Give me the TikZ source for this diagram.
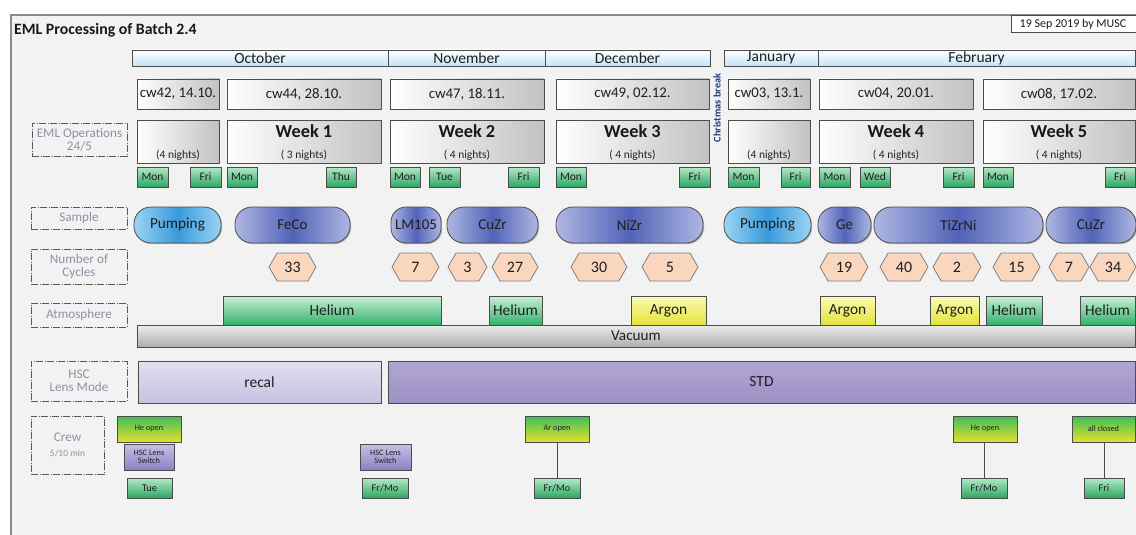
\documentclass[tikz,border=0pt]{standalone}
\usepackage{fontspec}
\setmainfont{Carlito}
\usetikzlibrary{shapes.symbols,shadows}
\definecolor{frameGray}{HTML}{8A8A8A}
\definecolor{bgGray}{HTML}{F2F2F2}
\definecolor{monthBlue}{HTML}{C2E4F7}
\definecolor{cwGray}{HTML}{C2C2C2}
\definecolor{dayT}{HTML}{B5E8C8}
\definecolor{dayB}{HTML}{2BA762}
\definecolor{pumpL}{HTML}{9AD4F4}
\definecolor{pumpM}{HTML}{3A9ADB}
\definecolor{sampL}{HTML}{AEB7E2}
\definecolor{sampM}{HTML}{5163B8}
\definecolor{peach}{HTML}{F9D6BE}
\definecolor{heT}{HTML}{C9EFD6}
\definecolor{heB}{HTML}{33B26B}
\definecolor{arT}{HTML}{FBFBB5}
\definecolor{arB}{HTML}{E3E33A}
\definecolor{vacT}{HTML}{EDEDED}
\definecolor{vacB}{HTML}{ADADAD}
\definecolor{recalT}{HTML}{E3DEF0}
\definecolor{recalB}{HTML}{C9C1E1}
\definecolor{stdT}{HTML}{B0A6D3}
\definecolor{stdB}{HTML}{9D90C5}
\definecolor{openT}{HTML}{3DBE5A}
\definecolor{openB}{HTML}{E2E22E}
\definecolor{hscT}{HTML}{C6BFE5}
\definecolor{hscB}{HTML}{8F80C5}
\definecolor{labText}{HTML}{9090A8}
\definecolor{xmas}{HTML}{1F3A80}
\newcommand\fsz[1]{\fontsize{#1pt}{#1pt}\selectfont}
\newcommand\bx[7]{\node[#6,anchor=north west,minimum width={(#4-#2)*1pt},minimum height={(#5-#3)*1pt}] (#1) at (#2,#3) {#7};}
\newcommand\hx[4]{\node[hex,anchor=west,minimum width={(#3-#2)*1pt},minimum height=28pt] (#1) at (#2,267) {#4};}
\tikzset{
  base/.style={inner sep=0pt, outer sep=0pt, draw=black!70, line width=0.8pt, text=black!88, align=center},
  shad/.style={drop shadow={shadow xshift=1.2pt, shadow yshift=-1.2pt, opacity=0.25, fill=black}},
  month/.style={base, top color=white, bottom color=monthBlue, font=\fsz{15.5}},
  cwbox/.style={base, shad, left color=white, right color=cwGray, font=\fsz{14.8}},
  weektxt/.style={font=\bfseries\fsz{18.3}, text=black!90, inner sep=0pt},
  nighttxt/.style={font=\fsz{11.5}, text=black!85, inner sep=0pt},
  daybox/.style={base, shad, top color=dayT, bottom color=dayB, font=\fsz{11.5}},
  pump/.style={base, shad, rounded corners=17pt, left color=pumpL, right color=pumpL, middle color=pumpM, font=\fsz{15.3}},
  samp/.style={base, shad, rounded corners=17pt, left color=sampL, right color=sampL, middle color=sampM, font=\fsz{15}},
  hex/.style={base, shape=signal, signal to=west and east, signal pointer angle=120, fill=peach, draw=black!50, font=\fsz{16}},
  helium/.style={base, top color=heT, bottom color=heB, font=\fsz{15.4}},
  argon/.style={base, top color=arT, bottom color=arB, font=\fsz{15.4}},
  vac/.style={base, top color=vacT, bottom color=vacB, font=\fsz{15.2}},
  recal/.style={base, shad, top color=recalT, bottom color=recalB, font=\fsz{15.5}},
  std/.style={base, shad, top color=stdT, bottom color=stdB, font=\fsz{15.5}},
  openbox/.style={base, shad, top color=openT, bottom color=openB, font=\fsz{8.3}},
  hscbox/.style={base, shad, top color=hscT, bottom color=hscB, font=\fsz{8.3}},
  crewday/.style={base, shad, top color=dayT, bottom color=dayB, font=\fsz{10.3}},
  lab/.style={inner sep=0pt, outer sep=0pt, draw=black!65, line width=0.7pt, dash pattern=on 7pt off 1.5pt on 1pt off 1.5pt, text=labText, font=\fsz{13.2}, align=center},
  link/.style={draw=black!70, line width=1pt}
}
\begin{document}
\begin{tikzpicture}[x=1pt,y=-1pt]
\useasboundingbox (0,0) rectangle (1136,535);
\fill[white] (0,0) rectangle (1136,535);
\fill[bgGray] (11,15) rectangle (1136,535);
\draw[frameGray, line width=1.5pt] (11,535) -- (11,15) -- (1137,15);
\node[anchor=west, inner sep=0pt, font=\bfseries\fsz{15.8}, text=black!90] (title) at (14,30) {EML Processing of Batch 2.4};
\bx{date}{1011}{15}{1140}{32}{base, fill=white}{}
\node[inner sep=0pt, font=\fsz{12}, text=black!90] (datetxt) at (1073,24) {19 Sep 2019 by MUSC};
% months
\bx{oct}{132}{50}{388}{66}{month}{October}
\bx{nov}{388}{50}{545}{66}{month}{November}
\bx{dec}{545}{50}{710}{66}{month}{December}
\bx{jan}{724}{50}{818}{66}{month}{January}
\bx{feb}{818}{50}{1135}{66}{month}{February}
% calendar weeks
\bx{cwA}{137}{79}{219}{109}{cwbox}{cw42, 14.10.}
\bx{cwB}{227}{79}{381}{109}{cwbox}{cw44, 28.10.}
\bx{cwC}{390}{79}{544}{109}{cwbox}{cw47, 18.11.}
\bx{cwD}{556}{79}{709}{109}{cwbox}{cw49, 02.12.}
\bx{cwE}{728}{79}{810}{109}{cwbox}{cw03, 13.1.}
\bx{cwF}{819}{79}{973}{109}{cwbox}{cw04, 20.01.}
\bx{cwG}{983}{79}{1135}{109}{cwbox}{cw08, 17.02.}
\node[rotate=90, inner sep=0pt, font=\bfseries\fsz{10.2}, text=xmas] (xmas) at (717,108) {Christmas break};
% operation weeks
\bx{wkA}{137}{120}{219}{163}{cwbox}{}
\bx{wkB}{227}{120}{381}{163}{cwbox}{}
\bx{wkC}{390}{120}{544}{163}{cwbox}{}
\bx{wkD}{556}{120}{709}{163}{cwbox}{}
\bx{wkE}{728}{120}{810}{163}{cwbox}{}
\bx{wkF}{819}{120}{973}{163}{cwbox}{}
\bx{wkG}{983}{120}{1135}{163}{cwbox}{}
\node[weektxt] (wkBt) at ([yshift=-11pt]wkB.north) {Week 1};
\node[weektxt] (wkCt) at ([yshift=-11pt]wkC.north) {Week 2};
\node[weektxt] (wkDt) at ([yshift=-11pt]wkD.north) {Week 3};
\node[weektxt] (wkFt) at ([yshift=-11pt]wkF.north) {Week 4};
\node[weektxt] (wkGt) at ([yshift=-11pt]wkG.north) {Week 5};
\node[nighttxt] (wkAn) at ([yshift=-35pt]wkA.north) {(4 nights)};
\node[nighttxt] (wkBn) at ([yshift=-35pt]wkB.north) {( 3 nights)};
\node[nighttxt] (wkCn) at ([yshift=-35pt]wkC.north) {( 4 nights)};
\node[nighttxt] (wkDn) at ([yshift=-35pt]wkD.north) {( 4 nights)};
\node[nighttxt] (wkEn) at ([yshift=-35pt]wkE.north) {(4 nights)};
\node[nighttxt] (wkFn) at ([yshift=-35pt]wkF.north) {( 4 nights)};
\node[nighttxt] (wkGn) at ([yshift=-35pt]wkG.north) {( 4 nights)};
% days
\bx{d1}{137}{167}{168}{187}{daybox}{Mon}
\bx{d2}{190}{167}{221}{187}{daybox}{Fri}
\bx{d3}{227}{167}{257}{187}{daybox}{Mon}
\bx{d4}{326}{167}{356}{187}{daybox}{Thu}
\bx{d5}{390}{167}{420}{187}{daybox}{Mon}
\bx{d6}{429}{167}{460}{187}{daybox}{Tue}
\bx{d7}{508}{167}{539}{187}{daybox}{Fri}
\bx{d8}{556}{167}{586}{187}{daybox}{Mon}
\bx{d9}{679}{167}{710}{187}{daybox}{Fri}
\bx{d10}{728}{167}{759}{187}{daybox}{Mon}
\bx{d11}{781}{167}{810}{187}{daybox}{Fri}
\bx{d12}{819}{167}{850}{187}{daybox}{Mon}
\bx{d13}{860}{167}{890}{187}{daybox}{Wed}
\bx{d14}{943}{167}{974}{187}{daybox}{Fri}
\bx{d15}{983}{167}{1013}{187}{daybox}{Mon}
\bx{d16}{1105}{167}{1135}{187}{daybox}{Fri}
% left labels
\bx{lEML}{32}{123}{127}{156}{lab}{EML Operations\\24/5}
\bx{lSample}{31}{207}{127}{229}{lab}{Sample}
\bx{lCycles}{31}{249}{127}{284}{lab}{Number of\\Cycles}
\bx{lAtmo}{31}{303}{127}{327}{lab}{Atmosphere}
\bx{lHSC}{31}{361}{127}{401}{lab}{HSC\\Lens Mode}
\bx{lCrew}{31}{416}{104}{474}{lab}{Crew\\[2pt]{\fsz{9.5}5/10 min}}
% samples
\bx{s1}{134}{207}{221}{243}{pump}{Pumping}
\bx{s2}{235}{207}{350}{243}{samp}{FeCo}
\bx{s3}{391}{207}{441}{243}{samp, rounded corners=15pt}{LM105}
\bx{s4}{447}{207}{538}{243}{samp}{CuZr}
\bx{s5}{556}{207}{703}{243}{samp}{NiZr}
\bx{s6}{724}{207}{811}{243}{pump}{Pumping}
\bx{s7}{818}{207}{871}{243}{samp}{Ge}
\bx{s8}{874}{207}{1043}{243}{samp}{TiZrNi}
\bx{s9}{1046}{207}{1136}{243}{samp}{CuZr}
% cycles
\hx{c1}{269}{316}{33}
\hx{c2}{392}{439}{7}
\hx{c3}{448}{487}{3}
\hx{c4}{492}{538}{27}
\hx{c5}{571}{627}{30}
\hx{c6}{642}{698}{5}
\hx{c7}{820}{868}{19}
\hx{c8}{880}{928}{40}
\hx{c9}{933}{981}{2}
\hx{c10}{993}{1040}{15}
\hx{c11}{1049}{1089}{7}
\hx{c12}{1090}{1136}{34}
% atmosphere
\bx{a1}{223}{296}{441}{325}{helium}{Helium}
\bx{a2}{489}{296}{542}{325}{helium}{Helium}
\bx{a3}{631}{296}{706}{325}{argon}{Argon}
\bx{a4}{820}{296}{875}{325}{argon}{Argon}
\bx{a5}{930}{296}{979}{325}{argon}{Argon}
\bx{a6}{986}{296}{1042}{325}{helium}{Helium}
\bx{a7}{1080}{296}{1135}{325}{helium}{Helium}
\bx{vac}{137}{325}{1135}{347}{vac}{Vacuum}
% HSC lens mode
\bx{recal}{138}{361}{381}{403}{recal}{recal}
\bx{std}{388}{361}{1135}{403}{std}{STD}
% crew
\bx{o1}{117}{416}{181}{442}{openbox}{He open}
\bx{h1}{124}{444}{174}{470}{hscbox}{HSC Lens\\Switch}
\bx{t1}{127}{478}{172}{498}{crewday}{Tue}
\bx{h2}{360}{444}{411}{470}{hscbox}{HSC Lens\\Switch}
\bx{t2}{362}{478}{408}{498}{crewday}{Fr/Mo}
\bx{o3}{525}{416}{589}{442}{openbox}{Ar open}
\bx{t3}{534}{478}{580}{498}{crewday}{Fr/Mo}
\bx{o4}{953}{416}{1017}{442}{openbox}{He open}
\bx{t4}{961}{478}{1007}{498}{crewday}{Fr/Mo}
\bx{o5}{1072}{416}{1135}{442}{openbox}{all closed}
\bx{t5}{1084}{478}{1124}{498}{crewday}{Fri}
\draw[link] (t3.north) -- (t3.north |- o3.south);
\draw[link] (t4.north) -- (t4.north |- o4.south);
\draw[link] (t5.north) -- (t5.north |- o5.south);
\end{tikzpicture}
\end{document}
